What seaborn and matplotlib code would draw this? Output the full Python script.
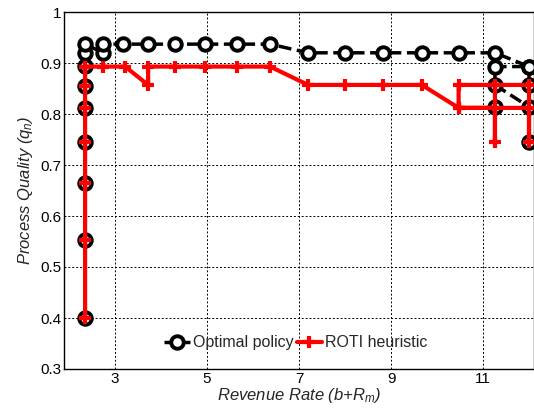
import matplotlib
matplotlib.use("Agg")
import matplotlib.pyplot as plt
import seaborn as sns
import pandas as pd

# Optimal policy path (revenue rate, process quality)
opt_x = [2.35, 2.35, 2.35, 2.35, 2.35, 2.35, 2.35, 2.35, 2.35, 2.74, 2.74,
         3.17, 3.72, 4.30, 4.96, 5.65, 6.37,
         7.20, 8.00, 8.83, 9.67, 10.47, 11.26,
         12.0, 11.26, 11.26, 11.26, 12.0, 12.0, 12.0, 12.0]
opt_y = [0.400, 0.553, 0.665, 0.745, 0.812, 0.855, 0.894, 0.920, 0.937, 0.920, 0.937,
         0.937, 0.937, 0.937, 0.937, 0.937, 0.937,
         0.920, 0.920, 0.920, 0.920, 0.920, 0.920,
         0.893, 0.893, 0.814, 0.857, 0.814, 0.746, 0.857, 0.893]

# ROTI heuristic path
roti_x = [2.35, 2.35, 2.35, 2.35, 2.35, 2.35, 2.35,
          2.74, 3.22, 3.72, 3.72, 4.30, 4.96, 5.65, 6.37,
          7.20, 8.00, 8.83, 9.67,
          10.47, 10.47, 11.26, 11.26, 11.26, 10.47, 12.0, 12.0, 12.0, 11.26]
roti_y = [0.400, 0.553, 0.665, 0.745, 0.812, 0.855, 0.893,
          0.893, 0.893, 0.857, 0.893, 0.893, 0.893, 0.893, 0.893,
          0.857, 0.857, 0.857, 0.857,
          0.812, 0.857, 0.857, 0.746, 0.812, 0.812, 0.812, 0.746, 0.857, 0.857]

x_ticks = [3, 5, 7, 9, 11]
y_ticks = [0.3, 0.4, 0.5, 0.6, 0.7, 0.8, 0.9, 1.0]
y_tick_labels = ["0.3", "0.4", "0.5", "0.6", "0.7", "0.8", "0.9", "1"]

sns.set_style("white")
plt.rcParams["font.family"] = ["Liberation Sans", "DejaVu Sans"]
plt.rcParams["mathtext.fontset"] = "custom"
plt.rcParams["mathtext.it"] = "Liberation Sans:italic"
plt.rcParams["mathtext.rm"] = "Liberation Sans:italic"

fig = plt.figure(figsize=(5.34, 4.12), dpi=100)
ax = fig.add_axes([64.4 / 534, 1 - 369 / 412, (533.6 - 64.4) / 534, (369 - 12) / 412])

df_opt = pd.DataFrame({"x": opt_x, "y": opt_y})
df_roti = pd.DataFrame({"x": roti_x, "y": roti_y})

sns.lineplot(data=df_opt, x="x", y="y", sort=False, estimator=None, ax=ax,
             color="black", linewidth=2.5, linestyle="--", marker="o",
             markersize=9, markeredgewidth=2.8, markerfacecolor="white",
             markeredgecolor="black", label="Optimal policy", zorder=3)
sns.lineplot(data=df_roti, x="x", y="y", sort=False, estimator=None, ax=ax,
             color="red", linewidth=3.0, linestyle="-", marker="+",
             markersize=9, markeredgewidth=3.0, markeredgecolor="red",
             label="ROTI heuristic", zorder=4)

ax.set_xlim(1.9, 12.1)
ax.set_ylim(0.3, 1.0)
ax.set_xticks(x_ticks)
ax.set_xticklabels([str(t) for t in x_ticks])
ax.set_yticks(y_ticks)
ax.set_yticklabels(y_tick_labels)
ax.tick_params(direction="in", length=4, width=0.8, labelsize=11, colors="black", pad=2)
ax.grid(True, color="black", linestyle=(0, (2, 2)), linewidth=0.7)
for s in ax.spines.values():
    s.set_color("black")
    s.set_linewidth(1.0)

ax.set_xlabel("Revenue Rate (b+R$_m$)", fontsize=12, fontstyle="italic", labelpad=0)
ax.set_ylabel("Process Quality (q$_n$)", fontsize=12, fontstyle="italic", labelpad=4)

leg = ax.legend(loc="center", bbox_to_anchor=(0.4936, 0.073), ncol=2, frameon=False,
                fontsize=11.5, handlelength=1.6, handletextpad=0.2, columnspacing=0.2)

fig.savefig("out.png", dpi=100)
